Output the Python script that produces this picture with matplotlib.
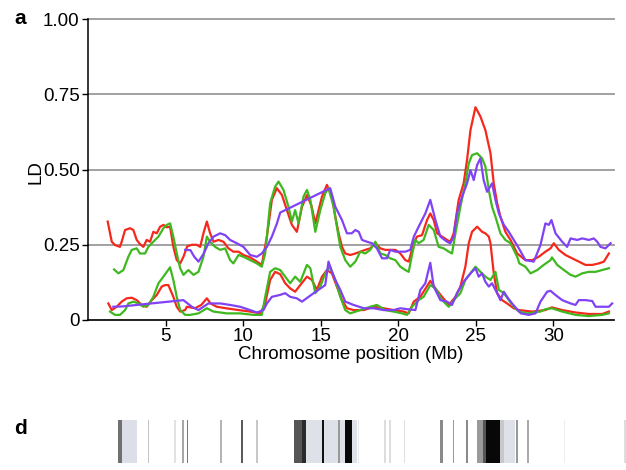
import numpy as np
import matplotlib
matplotlib.use("Agg")
import matplotlib.pyplot as plt

plt.rcParams['font.family'] = ['Liberation Sans', 'DejaVu Sans']

# LD curves: (position Mb, LD)
red_upper = [(1.27,0.327),(1.53,0.26),(1.74,0.249),(2.06,0.243),(2.17,0.26),(2.39,0.299),(2.71,0.305),
             (2.92,0.299),(3.14,0.266),(3.35,0.252),(3.57,0.243),(3.78,0.266),(4.0,0.26),(4.21,0.293),
             (4.43,0.288),(4.65,0.31),(4.86,0.316),(5.08,0.308),(5.29,0.31),(5.5,0.243),(5.72,0.199),
             (5.94,0.188),(6.15,0.21),(6.4,0.245),(6.7,0.25),(7.0,0.25),(7.23,0.243),(7.45,0.29),
             (7.66,0.327),(7.87,0.288),(8.09,0.26),(8.41,0.266),(8.73,0.26),(9.05,0.238),(9.37,0.227),
             (9.7,0.227),(10.02,0.216),(10.45,0.208),(10.88,0.194),(11.2,0.183),(11.53,0.277),(11.85,0.399),
             (12.17,0.438),(12.5,0.415),(12.82,0.365),(13.14,0.316),(13.46,0.293),(13.79,0.376),(14.11,0.415),
             (14.4,0.38),(14.65,0.321),(15.08,0.41),(15.4,0.449),(15.72,0.41),(15.94,0.343),(16.15,0.288),
             (16.37,0.243),(16.58,0.221),(16.9,0.216),(17.23,0.221),(17.55,0.227),(17.87,0.233),(18.19,0.238),
             (18.52,0.255),(18.84,0.238),(19.16,0.233),(19.48,0.233),(19.81,0.233),(20.13,0.221),(20.45,0.199),
             (20.67,0.194),(20.99,0.255),(21.2,0.277),(21.53,0.282),(21.85,0.332),(22.06,0.354),(22.28,0.332),
             (22.5,0.288),(22.82,0.277),(23.14,0.266),(23.35,0.26),(23.57,0.288),(23.89,0.399),(24.21,0.454),
             (24.43,0.532),(24.65,0.631),(24.97,0.707),(25.29,0.676),(25.61,0.631),(25.94,0.554),(26.15,0.454),
             (26.37,0.388),(26.58,0.343),(26.9,0.293),(27.23,0.266),(27.66,0.221),(28.19,0.199),(28.63,0.199),
             (29.05,0.21),(29.48,0.227),(29.81,0.238),(30.02,0.255),(30.34,0.233),(30.77,0.216),(31.2,0.205),
             (31.63,0.194),(32.06,0.183),(32.5,0.183),(32.92,0.188),(33.25,0.194),(33.57,0.221)]

green_upper = [(1.68,0.168),(1.96,0.155),(2.28,0.166),(2.6,0.21),(2.82,0.233),(3.14,0.238),(3.35,0.221),
               (3.68,0.221),(3.89,0.243),(4.21,0.26),(4.54,0.277),(4.86,0.305),(5.08,0.316),(5.29,0.321),
               (5.5,0.277),(5.72,0.221),(5.94,0.172),(6.15,0.15),(6.47,0.166),(6.8,0.15),(7.12,0.16),
               (7.44,0.21),(7.66,0.277),(7.87,0.26),(8.19,0.243),(8.52,0.233),(8.84,0.238),(9.16,0.199),
               (9.37,0.188),(9.7,0.216),(10.02,0.21),(10.45,0.199),(10.88,0.188),(11.2,0.177),(11.42,0.221),
               (11.74,0.388),(12.06,0.443),(12.28,0.46),(12.6,0.432),(12.92,0.376),(13.14,0.327),(13.35,0.365),
               (13.57,0.321),(13.89,0.41),(14.11,0.432),(14.33,0.399),(14.65,0.293),(14.97,0.365),(15.29,0.421),
               (15.5,0.438),(15.83,0.376),(16.04,0.31),(16.26,0.243),(16.58,0.199),(16.9,0.177),(17.23,0.194),
               (17.55,0.227),(17.87,0.221),(18.19,0.233),(18.52,0.26),(18.84,0.221),(19.16,0.216),(19.48,0.205),
               (19.81,0.199),(20.13,0.177),(20.45,0.166),(20.67,0.16),(20.9,0.221),(21.1,0.266),(21.31,0.255),
               (21.63,0.266),(21.96,0.316),(22.28,0.299),(22.6,0.243),(22.92,0.238),(23.25,0.227),(23.46,0.221),
               (23.68,0.288),(24.0,0.376),(24.32,0.454),(24.54,0.52),(24.75,0.548),(25.08,0.554),(25.4,0.537),
               (25.61,0.51),(25.83,0.432),(26.04,0.376),(26.26,0.343),(26.58,0.288),(26.9,0.266),(27.23,0.255),
               (27.66,0.21),(27.8,0.188),(28.19,0.177),(28.52,0.155),(28.95,0.166),(29.37,0.183),(29.81,0.199),
               (29.9,0.208),(30.24,0.183),(30.67,0.166),(31.1,0.15),(31.42,0.144),(31.85,0.155),(32.28,0.16),
               (32.71,0.16),(33.14,0.166),(33.57,0.172)]

purple_upper = [(6.26,0.233),(6.6,0.232),(6.85,0.21),(7.12,0.194),(7.45,0.22),(7.76,0.255),(8.09,0.277),
                (8.52,0.288),(8.84,0.282),(9.16,0.266),(9.59,0.255),(10.02,0.243),(10.45,0.216),(10.88,0.21),
                (11.2,0.221),(11.53,0.243),(11.85,0.277),(12.17,0.32),(12.39,0.357),(15.61,0.438),(15.94,0.376),
                (16.37,0.332),(16.69,0.288),(17.0,0.288),(17.23,0.299),(17.45,0.293),(17.66,0.266),(17.98,0.26),
                (18.3,0.255),(18.62,0.238),(18.95,0.205),(19.27,0.205),(19.48,0.233),(19.81,0.227),(20.13,0.227),
                (20.45,0.227),(20.77,0.233),(21.0,0.277),(21.31,0.31),(21.74,0.354),(22.06,0.399),(22.39,0.332),
                (22.71,0.277),(23.14,0.26),(23.35,0.255),(23.57,0.277),(23.78,0.354),(24.11,0.41),(24.43,0.454),
                (24.65,0.498),(24.86,0.465),(25.08,0.515),(25.29,0.537),(25.5,0.465),(25.72,0.426),(26.04,0.454),
                (26.26,0.399),(26.48,0.354),(26.8,0.316),(27.12,0.293),(27.44,0.266),(27.77,0.238),(28.19,0.199),
                (28.73,0.194),(29.16,0.249),(29.48,0.321),(29.7,0.316),(29.87,0.332),(30.13,0.288),(30.56,0.26),
                (30.88,0.243),(31.1,0.271),(31.53,0.266),(31.85,0.271),(32.28,0.266),(32.6,0.271),(32.82,0.26),
                (33.03,0.243),(33.35,0.238),(33.68,0.255)]

red_lower = [(1.31,0.055),(1.53,0.033),(1.85,0.044),(2.17,0.061),(2.49,0.072),(2.82,0.074),(3.14,0.066),
             (3.46,0.05),(3.78,0.044),(4.11,0.066),(4.43,0.083),(4.75,0.111),(4.97,0.116),(5.18,0.116),
             (5.5,0.077),(5.72,0.044),(5.94,0.028),(6.26,0.033),(6.37,0.044),(6.9,0.039),(7.3,0.05),
             (7.66,0.072),(7.9,0.055),(8.3,0.044),(8.9,0.039),(9.7,0.033),(10.45,0.028),(11.1,0.022),
             (11.42,0.055),(11.74,0.133),(12.06,0.16),(12.39,0.152),(12.71,0.122),(13.03,0.105),(13.35,0.094),
             (13.68,0.116),(14.11,0.144),(14.43,0.133),(14.75,0.1),(15.08,0.144),(15.4,0.166),(15.72,0.155),
             (16.04,0.111),(16.37,0.066),(16.69,0.039),(17.12,0.033),(17.77,0.033),(18.41,0.044),(19.05,0.039),
             (19.7,0.033),(20.34,0.028),(20.67,0.022),(20.99,0.061),(21.42,0.077),(22.06,0.13),(22.39,0.105),
             (22.82,0.077),(23.25,0.05),(23.68,0.077),(24.0,0.111),(24.32,0.177),(24.54,0.255),(24.75,0.293),
             (25.08,0.31),(25.4,0.293),(25.61,0.288),(25.83,0.277),(25.94,0.255),(26.15,0.155),(26.37,0.089),
             (26.69,0.066),(27.01,0.055),(27.44,0.039),(27.77,0.033),(28.63,0.028),(29.48,0.033),(29.9,0.042),
             (30.56,0.033),(31.42,0.025),(32.28,0.02),(33.14,0.02),(33.57,0.028)]

green_lower = [(1.42,0.028),(1.74,0.017),(2.06,0.017),(2.39,0.033),(2.6,0.055),(2.92,0.061),(3.25,0.055),
               (3.57,0.044),(3.89,0.05),(4.21,0.077),(4.54,0.122),(4.86,0.144),(5.08,0.16),(5.29,0.175),
               (5.5,0.133),(5.72,0.077),(5.94,0.033),(6.26,0.017),(6.58,0.017),(7.12,0.022),(7.66,0.039),
               (8.09,0.028),(8.95,0.022),(9.8,0.022),(10.66,0.017),(11.2,0.017),(11.42,0.077),(11.74,0.16),
               (12.06,0.172),(12.39,0.166),(12.71,0.144),(13.03,0.122),(13.35,0.144),(13.68,0.127),(14.11,0.183),
               (14.33,0.172),(14.65,0.089),(14.97,0.111),(15.29,0.155),(15.61,0.177),(15.94,0.133),(16.26,0.077),
               (16.58,0.033),(16.9,0.022),(17.55,0.033),(18.19,0.044),(18.62,0.05),(19.16,0.033),(19.7,0.028),
               (20.24,0.022),(20.56,0.017),(20.88,0.044),(21.31,0.066),(21.63,0.077),(22.06,0.116),(22.39,0.105),
               (22.82,0.066),(23.25,0.044),(23.68,0.072),(24.0,0.089),(24.32,0.133),(24.65,0.155),(24.97,0.177),
               (25.29,0.16),(25.61,0.144),(25.94,0.133),(26.26,0.16),(26.48,0.1),(26.8,0.089),(27.12,0.066),
               (27.44,0.044),(27.77,0.028),(28.3,0.022),(29.16,0.028),(29.48,0.036),(29.9,0.039),(30.56,0.028),
               (31.42,0.017),(32.28,0.013),(33.14,0.017),(33.57,0.022)]

purple_lower = [(1.63,0.044),(2.2,0.045),(6.15,0.066),(6.69,0.044),(7.12,0.033),(7.76,0.055),(8.52,0.055),
                (9.16,0.05),(9.8,0.044),(10.45,0.033),(10.88,0.025),(11.31,0.033),(11.53,0.055),(11.85,0.077),
                (12.35,0.083),(12.71,0.089),(13.03,0.077),(13.46,0.072),(13.79,0.061),(14.54,0.089),(15.29,0.116),
                (15.5,0.194),(15.72,0.16),(15.94,0.133),(16.26,0.1),(16.58,0.061),(17.12,0.05),(17.77,0.039),
                (18.41,0.039),(19.05,0.033),(19.7,0.033),(20.13,0.039),(20.56,0.036),(21.1,0.033),(21.42,0.1),
                (21.74,0.122),(22.06,0.19),(22.28,0.111),(22.71,0.066),(23.14,0.061),(23.46,0.05),(23.78,0.089),
                (24.21,0.127),(24.65,0.155),(24.97,0.172),(25.18,0.144),(25.4,0.155),(25.61,0.127),(25.83,0.111),
                (26.04,0.122),(26.37,0.089),(26.58,0.066),(26.8,0.094),(27.01,0.077),(27.33,0.055),(27.6,0.039),
                (27.9,0.022),(28.4,0.017),(28.84,0.022),(29.16,0.061),(29.59,0.094),(29.81,0.097),(30.13,0.083),
                (30.56,0.066),(31.1,0.055),(31.42,0.05),(31.63,0.066),(32.06,0.066),(32.5,0.063),(32.71,0.044),
                (33.14,0.044),(33.57,0.044),(33.78,0.055)]

# panel d strip: band start (Mb), band width (Mb), grey shade
strip_start = [1.92, 2.21, 3.85, 5.58, 6.07, 6.37, 8.54, 9.88, 10.84, 13.29, 13.79, 14.06, 15.08, 15.25,
               16.15, 16.27, 16.58, 17.05, 17.42, 19.12, 19.45, 20.37, 22.71, 23.53, 24.39, 25.08, 25.5,
               25.68, 26.58, 26.84, 27.62, 28.33, 30.7, 34.55]
strip_width = [0.29, 0.93, 0.1, 0.08, 0.1, 0.1, 0.1, 0.12, 0.1, 0.5, 0.27, 1.02, 0.17, 0.9,
               0.12, 0.31, 0.47, 0.29, 0.07, 0.08, 0.08, 0.08, 0.19, 0.1, 0.1, 0.42, 0.18,
               0.9, 0.26, 0.71, 0.1, 0.1, 0.07, 0.2]
strip_shade = ['#707070', '#dcdfe8', '#c4c4c8', '#e2e2e2', '#a8a8a8', '#7a7a7a', '#b4b4b4', '#5a5a5a',
               '#c8c8c8', '#555555', '#2a2a2a', '#dfe1e9', '#111111', '#dfe1e9', '#999999', '#dfe1e9',
               '#080808', '#dfe1e9', '#e8e8e8', '#dddddd', '#dddddd', '#e0e0e0', '#8a8a8a', '#9a9a9a',
               '#8a8a8a', '#9a9a9a', '#555555', '#080808', '#c8c8cc', '#dfe1e9', '#999999', '#aaaaaa',
               '#eeeeee', '#dddddd']

RED = '#f5281c'
GREEN = '#3fb820'
PURPLE = '#8042f5'

fig = plt.figure(figsize=(6.26, 4.70), dpi=100)
ax = fig.add_axes([88/626, 150/470, 526/626, 301/470])

for curve, col in [(red_upper, RED), (green_upper, GREEN), (purple_upper, PURPLE),
                   (red_lower, RED), (green_lower, GREEN), (purple_lower, PURPLE)]:
    xy = np.array(curve)
    ax.plot(xy[:, 0], xy[:, 1], color=col, lw=1.6, solid_joinstyle='round')

ax.set_xlim(0, 33.9)
ax.set_ylim(0, 1.0)
ax.set_yticks([0, 0.25, 0.5, 0.75, 1.0])
ax.set_yticklabels(['0', '0.25', '0.50', '0.75', '1.00'])
ax.set_xticks([5, 10, 15, 20, 25, 30])
ax.yaxis.grid(True, color='#9a9a9a', lw=1.3)
for gl in ax.get_ygridlines():
    gl.set_clip_on(False)
ax.set_axisbelow(True)
for s in ['top', 'right']:
    ax.spines[s].set_visible(False)
ax.spines['left'].set_linewidth(1.1)
ax.spines['bottom'].set_linewidth(1.1)
ax.tick_params(labelsize=13.5, length=4, width=1, pad=2)

ax.set_xlabel('Chromosome position (Mb)', fontsize=13.5)
ax.xaxis.set_label_coords(0.5, -0.088)
ax.set_ylabel('LD', fontsize=13.5)
ax.yaxis.set_label_coords(-0.082, 0.49)

fig.text(14/626, 1 - 19/470, 'a', fontsize=15, fontweight='bold', va='center', ha='left')
fig.text(14/626, 1 - 429/470, 'd', fontsize=15, fontweight='bold', va='center', ha='left')

# panel d
ax2 = fig.add_axes([88/626, 7/470, 538/626, 43/470])
ax2.bar(strip_start, 1, width=strip_width, align='edge', color=strip_shade, linewidth=0)
ax2.set_xlim(0, 34.71)
ax2.set_ylim(0, 1)
ax2.axis('off')

fig.savefig('out.png', dpi=100)
